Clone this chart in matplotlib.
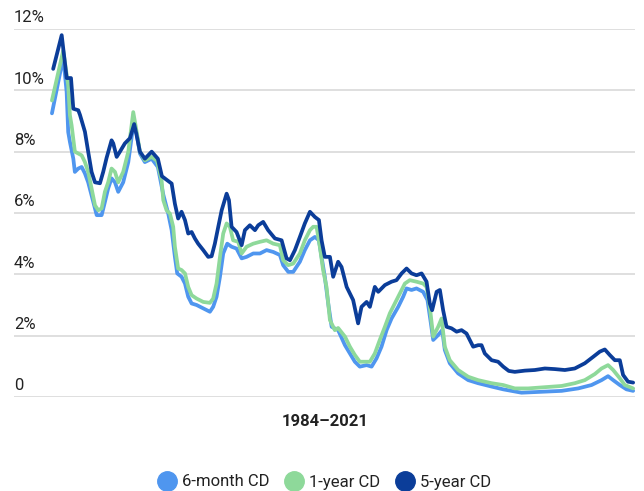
import matplotlib
matplotlib.use("Agg")
import matplotlib.pyplot as plt
from matplotlib.lines import Line2D

# ---- data ----
series_names = ["6-month CD", "1-year CD", "5-year CD"]
x_label = "1984\u20132021"
y_ticks = [0, 2, 4, 6, 8, 10, 12]
y_tick_labels = ["0", "2%", "4%", "6%", "8%", "10%", "12%"]

yr_6m = [1984.00, 1984.73, 1984.95, 1985.05, 1985.16, 1985.38, 1985.48, 1985.70, 1985.92, 1986.13,
         1986.34, 1986.67, 1986.89, 1987.21, 1987.42, 1987.63, 1987.85, 1988.07, 1988.28, 1988.60,
         1988.93, 1989.25, 1989.47, 1989.68, 1990.00, 1990.44, 1990.84, 1991.19, 1991.51, 1991.73,
         1991.94, 1992.09, 1992.37, 1992.59, 1992.80, 1993.02, 1993.34, 1993.77, 1994.20, 1994.41,
         1994.63, 1994.85, 1995.06, 1995.32, 1995.60, 1995.92, 1996.25, 1996.57, 1997.00, 1997.43,
         1997.86, 1998.29, 1998.72, 1998.93, 1999.26, 1999.58, 2000.01, 2000.33, 2000.66, 2000.98,
         2001.24, 2001.41, 2001.62, 2001.84, 2002.06, 2002.48, 2002.92, 2003.24, 2003.56, 2003.88,
         2004.32, 2004.64, 2004.96, 2005.28, 2005.61, 2005.93, 2006.36, 2006.68, 2006.90, 2007.22,
         2007.54, 2007.97, 2008.25, 2008.47, 2008.62, 2008.94, 2009.20, 2009.37, 2009.69, 2010.23,
         2010.88, 2011.52, 2012.39, 2013.14, 2014.32, 2015.61, 2016.91, 2017.98, 2018.84, 2019.49,
         2019.91, 2020.24, 2020.67, 2021.10, 2021.53]
rate_6m = [9.25, 11.08, 9.94, 8.64, 8.32, 7.77, 7.34, 7.45, 7.50, 7.29,
           7.00, 6.36, 5.93, 5.93, 6.36, 6.80, 7.13, 7.00, 6.69, 7.00,
           7.66, 8.86, 8.59, 7.94, 7.66, 7.77, 7.50, 6.60, 5.98, 5.44,
           4.57, 4.03, 3.92, 3.70, 3.27, 3.05, 3.00, 2.89, 2.78, 2.94,
           3.27, 3.92, 4.68, 5.00, 4.90, 4.84, 4.52, 4.57, 4.68, 4.68,
           4.79, 4.73, 4.63, 4.30, 4.08, 4.08, 4.41, 4.79, 5.11, 5.22,
           5.11, 4.57, 3.92, 3.05, 2.29, 2.18, 1.69, 1.42, 1.15, 0.99,
           1.04, 0.99, 1.26, 1.64, 2.18, 2.56, 2.94, 3.27, 3.54, 3.49,
           3.54, 3.43, 3.16, 2.40, 1.86, 2.02, 2.18, 1.53, 1.10, 0.77,
           0.55, 0.45, 0.34, 0.25, 0.14, 0.17, 0.20, 0.28, 0.39, 0.55,
           0.68, 0.55, 0.39, 0.25, 0.20]

yr_1y = [1984.00, 1984.73, 1985.05, 1985.16, 1985.27, 1985.48, 1985.70, 1985.92, 1986.13, 1986.34,
         1986.56, 1986.78, 1986.99, 1987.21, 1987.42, 1987.63, 1987.85, 1988.07, 1988.28, 1988.60,
         1988.93, 1989.25, 1989.47, 1989.68, 1990.00, 1990.44, 1990.78, 1991.08, 1991.19, 1991.40,
         1991.62, 1991.83, 1991.94, 1992.15, 1992.37, 1992.59, 1992.80, 1993.02, 1993.34, 1993.77,
         1994.20, 1994.41, 1994.63, 1994.85, 1995.06, 1995.28, 1995.49, 1995.70, 1996.03, 1996.25,
         1996.57, 1997.00, 1997.43, 1997.86, 1998.29, 1998.72, 1998.93, 1999.26, 1999.58, 2000.01,
         2000.33, 2000.66, 2000.87, 2001.09, 2001.30, 2001.51, 2001.73, 2001.95, 2002.27, 2002.48,
         2002.92, 2003.24, 2003.56, 2003.88, 2004.21, 2004.53, 2004.85, 2005.17, 2005.50, 2005.82,
         2006.14, 2006.47, 2006.79, 2007.11, 2007.54, 2007.97, 2008.19, 2008.40, 2008.62, 2008.94,
         2009.16, 2009.37, 2009.69, 2010.23, 2010.88, 2011.52, 2012.39, 2013.14, 2013.89, 2014.75,
         2015.83, 2016.91, 2017.76, 2018.41, 2019.06, 2019.49, 2019.91, 2020.24, 2020.67, 2020.99,
         2021.53]
rate_1y = [9.67, 11.30, 10.16, 9.19, 8.86, 8.00, 7.94, 7.88, 7.66, 7.34,
           6.80, 6.25, 6.09, 6.15, 6.69, 7.00, 7.45, 7.34, 7.00, 7.34,
           8.00, 9.29, 8.65, 8.00, 7.72, 7.83, 7.70, 7.07, 6.42, 6.09,
           5.98, 5.55, 4.90, 4.19, 4.14, 4.03, 3.59, 3.32, 3.21, 3.10,
           3.07, 3.21, 3.70, 4.57, 5.33, 5.66, 5.55, 5.11, 5.06, 4.68,
           4.90, 5.00, 5.06, 5.11, 5.00, 4.95, 4.46, 4.30, 4.35, 4.68,
           5.11, 5.44, 5.55, 5.55, 4.90, 4.14, 3.59, 2.51, 2.18, 2.25,
           1.97, 1.64, 1.37, 1.15, 1.15, 1.15, 1.42, 1.86, 2.29, 2.73,
           3.05, 3.38, 3.70, 3.81, 3.76, 3.70, 3.59, 2.94, 1.97, 2.29,
           2.56, 1.64, 1.20, 0.88, 0.66, 0.55, 0.45, 0.39, 0.28, 0.28,
           0.32, 0.36, 0.45, 0.55, 0.75, 0.93, 1.04, 0.88, 0.61, 0.39,
           0.28]

yr_5y = [1984.08, 1984.63, 1984.95, 1985.23, 1985.38, 1985.70, 1985.81, 1986.13, 1986.34, 1986.56,
         1986.78, 1987.10, 1987.31, 1987.53, 1987.85, 1987.96, 1988.18, 1988.39, 1988.71, 1989.04,
         1989.31, 1989.47, 1989.68, 1990.00, 1990.44, 1990.84, 1991.10, 1991.36, 1991.73, 1991.94,
         1992.15, 1992.37, 1992.59, 1992.80, 1993.02, 1993.23, 1993.44, 1993.77, 1994.09, 1994.31,
         1994.52, 1994.74, 1994.96, 1995.28, 1995.43, 1995.60, 1995.92, 1996.25, 1996.46, 1996.78,
         1997.11, 1997.32, 1997.64, 1997.96, 1998.40, 1998.83, 1999.15, 1999.37, 1999.69, 2000.01,
         2000.33, 2000.66, 2000.98, 2001.24, 2001.41, 2001.62, 2001.95, 2002.16, 2002.48, 2002.70,
         2003.03, 2003.45, 2003.77, 2003.99, 2004.32, 2004.53, 2004.85, 2005.07, 2005.50, 2005.93,
         2006.25, 2006.58, 2006.90, 2007.22, 2007.54, 2007.87, 2008.19, 2008.40, 2008.55, 2008.84,
         2009.05, 2009.26, 2009.48, 2009.80, 2010.13, 2010.45, 2010.77, 2011.20, 2011.52, 2011.74,
         2011.95, 2012.39, 2012.81, 2013.14, 2013.50, 2013.89, 2014.54, 2015.18, 2015.83, 2016.47,
         2017.12, 2017.76, 2018.41, 2018.95, 2019.38, 2019.70, 2020.02, 2020.35, 2020.67, 2020.88,
         2021.20, 2021.53]
rate_5y = [10.70, 11.80, 10.40, 10.40, 9.40, 9.35, 9.20, 8.65, 8.00, 7.34,
           7.00, 6.97, 7.34, 7.80, 8.37, 8.27, 7.83, 8.00, 8.27, 8.44,
           8.90, 8.53, 8.00, 7.77, 8.00, 7.77, 7.20, 7.10, 6.96, 6.30,
           5.82, 6.04, 5.77, 5.33, 5.38, 5.17, 5.00, 4.79, 4.57, 4.59,
           5.00, 5.55, 6.09, 6.63, 6.42, 5.55, 5.38, 4.95, 5.44, 5.60,
           5.44, 5.60, 5.71, 5.44, 5.17, 5.11, 4.52, 4.46, 4.79, 5.22,
           5.66, 6.04, 5.87, 5.77, 5.11, 4.57, 4.57, 3.92, 4.41, 4.24,
           3.59, 3.16, 2.40, 2.94, 3.10, 2.94, 3.59, 3.43, 3.65, 3.76,
           3.81, 4.03, 4.19, 4.03, 3.97, 4.03, 3.76, 3.05, 2.83, 3.43,
           3.49, 2.83, 2.29, 2.24, 2.13, 2.18, 2.07, 1.64, 1.69, 1.69,
           1.42, 1.20, 1.15, 0.99, 0.85, 0.82, 0.86, 0.88, 0.93, 0.91,
           0.88, 0.93, 1.10, 1.31, 1.48, 1.55, 1.37, 1.20, 1.20, 0.72,
           0.50, 0.47]

colors = ["#4f96ef", "#8ed99a", "#0b3d99"]

# ---- figure ----
W, H = 644, 491
fig = plt.figure(figsize=(W / 100, H / 100), dpi=100)
plt.rcParams['font.family'] = ['Roboto', 'DejaVu Sans']

ax = fig.add_axes([14 / W, 1 - 397 / H, (635 - 14) / W, (397 - 29) / H])
ax.set_xlim(1981.55, 2021.65)
ax.set_ylim(0, 12)

for y, lab in zip(y_ticks, y_tick_labels):
    ax.axhline(y, color="#dcdcdc", lw=1.3, zorder=0)
    ax.text(0, y + 0.12, lab, transform=ax.get_yaxis_transform(),
            ha="left", va="bottom", fontsize=12, color="#222222")

data = [(yr_6m, rate_6m), (yr_1y, rate_1y), (yr_5y, rate_5y)]
for (xs, ys), c, name in zip(data, colors, series_names):
    ax.plot(xs, ys, color=c, lw=2.7, solid_joinstyle="round", solid_capstyle="round",
            clip_on=False, zorder=2, label=name)

for s in ax.spines.values():
    s.set_visible(False)
ax.set_xticks([])
ax.set_yticks([])

fig.text(325 / W, 1 - 421 / H, x_label, ha="center", va="center", fontsize=12,
         fontweight="bold", color="#222222")

handles = [Line2D([], [], marker="o", ls="none", markersize=14, markerfacecolor=c,
                  markeredgecolor=c) for c in colors]
fig.legend(handles, series_names, loc="center", bbox_to_anchor=(324 / W, 1 - 482 / H),
           ncol=3, frameon=False, fontsize=12, handletextpad=0.3, columnspacing=0.9,
           handlelength=1.2, labelcolor="#222222", borderpad=0)

fig.savefig("out.png", dpi=100)
